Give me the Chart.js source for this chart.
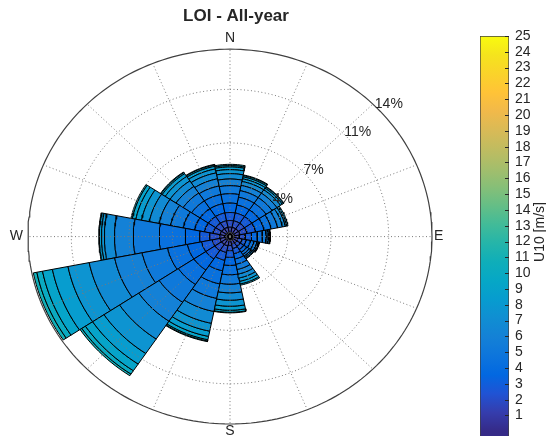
<!DOCTYPE html>
<html>
<head>
<meta charset="utf-8">
<script src="https://cdn.jsdelivr.net/npm/chart.js@4.4.1/dist/chart.umd.min.js"></script>
<style>
html, body { margin: 0; padding: 0; background: #fff; }
#wrap { position: relative; width: 546px; height: 436px; overflow: hidden; }
#rose { position: absolute; left: 0; top: 0; }
#bar { position: absolute; left: 470px; top: 0; }
</style>
</head>
<body>
<div id="wrap">
  <canvas id="rose" width="546" height="436"></canvas>
  <canvas id="bar" width="76" height="452"></canvas>
</div>
<script>
// directions, clockwise from north
const directions = ['N','NNE','NE','ENE','E','ESE','SE','SSE','S','SSW','SW','WSW','W','WNW','NW','NNW'];
// speed bin edges (m/s)
const speedEdges = [0,0.8,1.6,2.4,3.2,4,4.8,5.6,6.4,7.2,8,8.8,9.6,10.4,11.2];

// frequency (%) of each speed bin, one value per direction
const f0  = [0.3,0.3,0.3,0.3,0.3,0.25,0.25,0.25,0.3,0.3,0.3,0.3,0.35,0.3,0.3,0.3];
const f1  = [0.4,0.4,0.4,0.4,0.35,0.3,0.3,0.3,0.35,0.4,0.4,0.4,0.35,0.4,0.4,0.4];
const f2  = [0.5,0.5,0.5,0.5,0.4,0.3,0.3,0.35,0.4,0.5,0.55,0.55,0.7,0.5,0.5,0.5];
const f3  = [0.6,0.6,0.6,0.6,0.45,0.3,0.3,0.4,0.5,0.6,0.75,0.75,0.7,0.6,0.6,0.6];
const f4  = [0.7,0.6,0.6,0.6,0.4,0.3,0.25,0.4,0.6,0.8,1.0,1.0,1.0,0.7,0.7,0.7];
const f5  = [0.7,0.6,0.6,0.5,0.35,0.25,0.2,0.4,0.7,1.0,1.3,1.4,1.8,0.8,0.7,0.7];
const f6  = [0.6,0.5,0.5,0.45,0.25,0.2,0.15,0.4,0.7,1.1,1.6,1.8,1.8,0.9,0.7,0.65];
const f7  = [0.5,0.4,0.4,0.35,0.15,0.1,0.1,0.35,0.65,1.0,1.7,1.95,1.3,0.8,0.6,0.55];
const f8  = [0.4,0.3,0.3,0.2,0.1,0.05,0.1,0.3,0.55,0.9,1.6,1.8,0.7,0.7,0.5,0.45];
const f9  = [0.3,0.2,0.15,0.1,0.05,0.05,0.05,0.25,0.45,0.6,1.3,1.5,0.2,0.55,0.4,0.3];
const f10 = [0.2,0.15,0.1,0.1,0,0,0,0.2,0.3,0.4,0.95,1.1,0.15,0.4,0.25,0.2];
const f11 = [0.1,0.1,0.05,0,0,0,0,0.1,0.15,0.25,0.6,0.7,0.05,0.25,0.1,0.1];
const f12 = [0.1,0.05,0,0,0,0,0,0,0.05,0.1,0.3,0.4,0,0.1,0.05,0.05];
const f13 = [0,0,0,0,0,0,0,0,0,0.05,0.15,0.25,0,0,0,0];

const ringValues = [4, 7, 11];
const outerRing = 14;
const ringLabels = ['4%', '7%', '11%', '14%'];
const compassLabels = ['N', 'E', 'S', 'W'];
const colorTicks = [1,2,3,4,5,6,7,8,9,10,11,12,13,14,15,16,17,18,19,20,21,22,23,24,25];
const colorRange = 25;
const cbMin = -0.4;
const titleText = 'LOI - All-year';

// parula colormap (every 3rd row)
const parulaMap = [
  [0.2081,0.1663,0.5292],[0.2081,0.2386,0.6771],[0.1253,0.3242,0.8303],[0.0060,0.4086,0.8828],
  [0.0498,0.4586,0.8641],[0.0779,0.5040,0.8384],[0.0641,0.5570,0.8240],[0.0265,0.6137,0.8135],
  [0.0228,0.6535,0.7768],[0.0590,0.6838,0.7254],[0.1453,0.7098,0.6646],[0.2586,0.7317,0.5954],
  [0.3953,0.7459,0.5244],[0.5300,0.7491,0.4661],[0.6473,0.7456,0.4188],[0.7525,0.7384,0.3768],
  [0.8507,0.7299,0.3360],[0.9450,0.7261,0.2886],[0.9990,0.7653,0.2164],[0.9789,0.8271,0.1633],
  [0.9589,0.8949,0.1132],[0.9763,0.9831,0.0538]
];

const freqs = [f0,f1,f2,f3,f4,f5,f6,f7,f8,f9,f10,f11,f12,f13];
const sectorWidth = 360 / directions.length;
const fontFamily = '"Liberation Sans", Arial, Helvetica, sans-serif';
const textColor = '#262626';
Chart.defaults.font.family = fontFamily;

function rgb(p) {
  return 'rgb(' + p.map(v => Math.round(v * 255)).join(',') + ')';
}

function parula(v) {
  const t = Math.min(Math.max(v / colorRange, 0), 1) * (parulaMap.length - 1);
  const i = Math.min(Math.floor(t), parulaMap.length - 2);
  const w = t - i;
  const a = parulaMap[i], b = parulaMap[i + 1];
  return rgb([0, 1, 2].map(k => a[k] + (b[k] - a[k]) * w));
}

function polar(r, deg) {
  const a = deg * Math.PI / 180;
  return {x: r * Math.sin(a), y: r * Math.cos(a)};
}

function arcPts(r, d0, d1, n) {
  const pts = [];
  for (let i = 0; i <= n; i++) pts.push(polar(r, d0 + (d1 - d0) * i / n));
  return pts;
}

function wedge(dirIdx, r0, r1) {
  const c = dirIdx * sectorWidth;
  const d0 = c - sectorWidth / 2, d1 = c + sectorWidth / 2;
  const outer = arcPts(r1, d0, d1, 12);
  const inner = r0 > 0 ? arcPts(r0, d1, d0, 12) : [{x: 0, y: 0}];
  const pts = outer.concat(inner);
  pts.push(outer[0]);
  return pts;
}

const datasets = [];
directions.forEach((d, i) => {
  let r = 0;
  freqs.forEach((f, k) => {
    const v = f[i];
    if (!v) return;
    datasets.push({
      label: d + ' ' + speedEdges[k] + '-' + speedEdges[k + 1],
      data: wedge(i, r, r + v),
      fill: 'shape',
      backgroundColor: parula((speedEdges[k] + speedEdges[k + 1]) / 2),
      borderColor: '#000',
      borderWidth: 1,
      order: 3
    });
    r += v;
  });
});

// dotted grid, on top of the bars
const gridColor = '#7a7a7a';
ringValues.forEach(r => {
  datasets.push({data: arcPts(r, 0, 360, 180), borderColor: gridColor, borderWidth: 1, borderDash: [1, 2.5], fill: false, order: 2, clip: false});
});
directions.forEach((d, i) => {
  datasets.push({data: [{x: 0, y: 0}, polar(outerRing, i * sectorWidth)], borderColor: gridColor, borderWidth: 1, borderDash: [1, 2.5], fill: false, order: 2, clip: false});
});
datasets.push({data: arcPts(outerRing, 0, 360, 240), borderColor: '#404040', borderWidth: 1.2, fill: false, order: 1, clip: false});

const roseLabels = {
  id: 'roseLabels',
  afterDraw(chart) {
    const {ctx, scales: {x, y}} = chart;
    ctx.save();
    ctx.fillStyle = textColor;
    ctx.textBaseline = 'middle';
    ctx.textAlign = 'center';
    ctx.font = 'bold 17px ' + fontFamily;
    ctx.fillText(titleText, 236, 16);
    ctx.font = '14px ' + fontFamily;
    const cx = x.getPixelForValue(0), cy = y.getPixelForValue(0);
    ctx.fillText(compassLabels[0], cx, y.getPixelForValue(outerRing) - 11);
    ctx.fillText(compassLabels[2], cx, y.getPixelForValue(-outerRing) + 7);
    ctx.textAlign = 'left';
    ctx.fillText(compassLabels[1], x.getPixelForValue(outerRing) + 2, cy);
    ctx.textAlign = 'right';
    ctx.fillText(compassLabels[3], x.getPixelForValue(-outerRing) - 5, cy);
    ctx.textAlign = 'left';
    ringValues.concat([outerRing]).forEach((r, i) => {
      const p = polar(r, 45);
      ctx.fillText(ringLabels[i], x.getPixelForValue(p.x) + 2, y.getPixelForValue(p.y));
    });
    ctx.restore();
  }
};

new Chart(document.getElementById('rose'), {
  type: 'line',
  data: {datasets: datasets},
  options: {
    responsive: false,
    animation: false,
    events: [],
    layout: {padding: {left: 28, right: 114, top: 49.2, bottom: 12}},
    elements: {point: {radius: 0}, line: {tension: 0}},
    plugins: {
      legend: {display: false},
      tooltip: {enabled: false},
      title: {display: false}
    },
    scales: {
      x: {type: 'linear', min: -outerRing, max: outerRing, display: false},
      y: {type: 'linear', min: -outerRing, max: outerRing, display: false}
    }
  },
  plugins: [roseLabels]
});

// colour bar
const barExtras = {
  id: 'barExtras',
  afterDatasetsDraw(chart) {
    const {ctx, chartArea: a, scales: {y}} = chart;
    ctx.save();
    ctx.strokeStyle = textColor;
    ctx.lineWidth = 1;
    colorTicks.forEach(v => {
      const py = Math.round(y.getPixelForValue(v)) + 0.5;
      ctx.beginPath();
      ctx.moveTo(a.right - 4, py);
      ctx.lineTo(a.right, py);
      ctx.stroke();
    });
    ctx.restore();
  },
  afterDraw(chart) {
    const {ctx} = chart;
    ctx.save();
    ctx.font = '14px ' + fontFamily;
    ctx.fillStyle = textColor;
    ctx.textAlign = 'center';
    ctx.textBaseline = 'middle';
    ctx.translate(70, 232);
    ctx.rotate(-Math.PI / 2);
    ctx.fillText('U10 [m/s]', 0, 0);
    ctx.restore();
  }
};

new Chart(document.getElementById('bar'), {
  type: 'bar',
  data: {
    labels: [''],
    datasets: [{
      data: [[cbMin, colorRange]],
      backgroundColor(c) {
        const ch = c.chart;
        if (!ch.chartArea) return parula(12);
        const ys = ch.scales.y;
        const g = ch.ctx.createLinearGradient(0, ys.getPixelForValue(0), 0, ys.getPixelForValue(colorRange));
        parulaMap.forEach((p, i) => g.addColorStop(i / (parulaMap.length - 1), rgb(p)));
        return g;
      },
      borderColor: '#404040',
      borderWidth: 1,
      borderSkipped: false,
      barPercentage: 1,
      categoryPercentage: 1
    }]
  },
  options: {
    responsive: false,
    animation: false,
    events: [],
    layout: {padding: {left: 10, right: 10, top: 36, bottom: 1}},
    plugins: {legend: {display: false}, tooltip: {enabled: false}},
    scales: {
      x: {display: false},
      y: {
        position: 'right',
        min: cbMin,
        max: colorRange,
        afterBuildTicks: s => { s.ticks = colorTicks.map(v => ({value: v})); },
        afterFit: s => { s.width = 27; },
        grid: {display: false, drawTicks: false},
        border: {display: false},
        ticks: {color: textColor, padding: 6, autoSkip: false, font: {size: 14}}
      }
    }
  },
  plugins: [barExtras]
});
</script>
</body>
</html>
